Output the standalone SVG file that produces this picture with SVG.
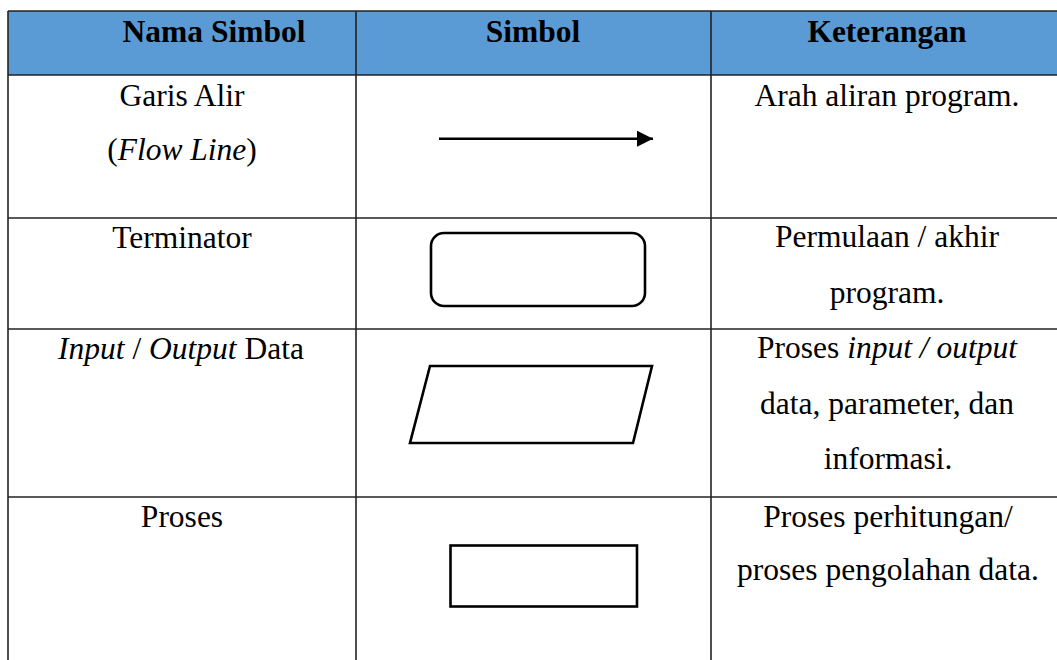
<svg xmlns="http://www.w3.org/2000/svg" width="1057" height="660" viewBox="0 0 1057 660">
<style>
  text { font-family: "Liberation Serif", "Times New Roman", serif; font-size: 31.5px; fill: #000; }
  .h { font-weight: bold; }
  .c { text-anchor: middle; }
  .grid { stroke: #222; stroke-width: 1.6; fill: none; }
  .sym { stroke: #000; stroke-width: 2.6; fill: #fff; }
</style>
<defs>
  <marker id="ah" markerUnits="userSpaceOnUse" markerWidth="17" markerHeight="17" refX="16" refY="8" orient="auto">
    <path d="M0,0 L16,8 L0,16 Z" fill="#000"/>
  </marker>
</defs>
<rect width="1057" height="660" fill="#fff"/>
<g id="table">
  <rect x="8" y="11" width="1060" height="64" fill="#5B9BD5"/>
  <g class="grid">
    <line x1="8" y1="11" x2="1057" y2="11"/>
    <line x1="8" y1="75" x2="1057" y2="75"/>
    <line x1="8" y1="218" x2="1057" y2="218"/>
    <line x1="8" y1="329" x2="1057" y2="329"/>
    <line x1="8" y1="497" x2="1057" y2="497"/>
    <line x1="8" y1="11" x2="8" y2="660"/>
    <line x1="356" y1="11" x2="356" y2="660"/>
    <line x1="711" y1="11" x2="711" y2="660"/>
  </g>
</g>
<g id="header">
  <text class="h c" x="214" y="42">Nama Simbol</text>
  <text class="h c" x="533" y="42">Simbol</text>
  <text class="h c" x="887" y="42">Keterangan</text>
</g>
<g id="row-flowline">
  <text class="c" x="182" y="106">Garis Alir</text>
  <text class="c" x="182" y="160">(<tspan font-style="italic">Flow Line</tspan>)</text>
  <text class="c" x="887" y="106">Arah aliran program.</text>
</g>
<g id="connectors">
  <line x1="439" y1="138.7" x2="653" y2="138.7" stroke="#000" stroke-width="2.4" marker-end="url(#ah)"/>
</g>
<g id="row-terminator">
  <text class="c" x="182" y="248">Terminator</text>
  <rect class="sym" x="431" y="233" width="214" height="73" rx="13" ry="13"/>
  <text class="c" x="887" y="247">Permulaan / akhir</text>
  <text class="c" x="887" y="303">program.</text>
</g>
<g id="row-io">
  <text class="c" x="181" y="359"><tspan font-style="italic">Input</tspan> / <tspan font-style="italic">Output</tspan> Data</text>
  <polygon class="sym" points="430,366 652,366 633,443 410,443"/>
  <text class="c" x="887" y="358">Proses <tspan font-style="italic">input / output</tspan></text>
  <text class="c" x="887" y="414">data, parameter, dan</text>
  <text class="c" x="888" y="469">informasi.</text>
</g>
<g id="row-proses">
  <text class="c" x="182" y="527">Proses</text>
  <rect class="sym" x="450.5" y="545.5" width="186.5" height="61"/>
  <text class="c" x="888" y="527">Proses perhitungan/</text>
  <text class="c" x="888" y="580">proses pengolahan data.</text>
</g>
</svg>
